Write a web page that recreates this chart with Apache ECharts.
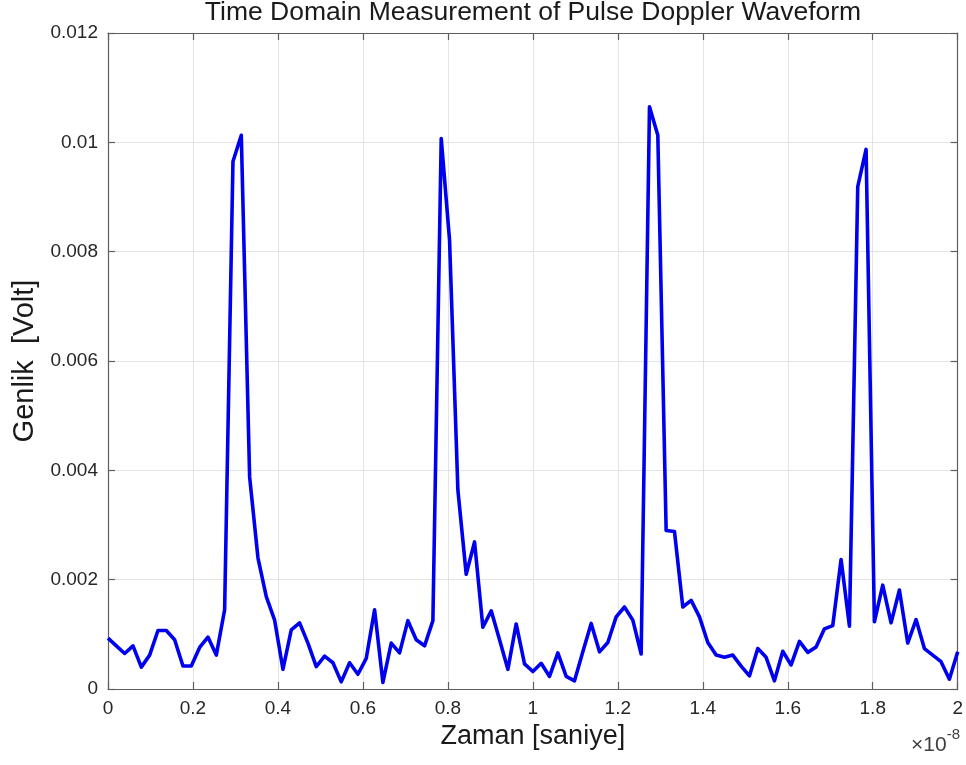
<!DOCTYPE html>
<html>
<head>
<meta charset="utf-8">
<title>Pulse Doppler Waveform</title>
<script src="https://cdn.jsdelivr.net/npm/echarts@6/dist/echarts.min.js"></script>
<style>
  html, body { margin: 0; padding: 0; background: #ffffff; }
  #chart { width: 966px; height: 765px; }
</style>
</head>
<body>
<div id="chart"></div>
<script>
// Measured pulse train amplitude [V], uniformly sampled from t = 0 to t = 2e-8 s
const amplitude = [
  0.00093, 0.00079, 0.00065, 0.00079, 0.00040, 0.00062, 0.00107, 0.00107, 0.00090, 0.00042,
  0.00042, 0.00076, 0.00095, 0.00062, 0.00145, 0.00965, 0.01013, 0.00388, 0.00240, 0.00169,
  0.00126, 0.00036, 0.00108, 0.00121, 0.00084, 0.00041, 0.00060, 0.00048, 0.00013, 0.00048,
  0.00027, 0.00056, 0.00145, 0.00012, 0.00084, 0.00066, 0.00125, 0.00090, 0.00079, 0.00125,
  0.01007, 0.00821, 0.00364, 0.00210, 0.00269, 0.00113, 0.00143, 0.00090, 0.00036, 0.00119,
  0.00046, 0.00032, 0.00047, 0.00023, 0.00066, 0.00023, 0.00015, 0.00068, 0.00120, 0.00068,
  0.00085, 0.00132, 0.00150, 0.00126, 0.00064, 0.01065, 0.01013, 0.00290, 0.00288, 0.00150,
  0.00162, 0.00132, 0.00085, 0.00062, 0.00058, 0.00062, 0.00042, 0.00024, 0.00074, 0.00058,
  0.00015, 0.00069, 0.00044, 0.00087, 0.00067, 0.00077, 0.00110, 0.00116, 0.00237, 0.00115,
  0.00919, 0.00987, 0.00123, 0.00190, 0.00121, 0.00181, 0.00084, 0.00127, 0.00074, 0.00062,
  0.00050, 0.00018, 0.00068
];

// Time span in units of 1e-8 s
const T_END = 2;
const time = amplitude.map((_, i) => i * T_END / (amplitude.length - 1));

const xTicks = [0, 0.2, 0.4, 0.6, 0.8, 1, 1.2, 1.4, 1.6, 1.8, 2];
const yTicks = [0, 0.002, 0.004, 0.006, 0.008, 0.01, 0.012];

const titleText = 'Time Domain Measurement of Pulse Doppler Waveform';
const xLabel = 'Zaman [saniye]';
const yLabel = 'Genlik  [Volt]';

const FONT = '"Liberation Sans", Arial, Helvetica, sans-serif';
const AXIS_COLOR = '#5e5e5e';
const GRID_COLOR = '#e3e3e3';
const TICK_TEXT = '#262626';

const fmt = v => String(+v.toFixed(4));

const chart = echarts.init(document.getElementById('chart'), null, { renderer: 'canvas' });

const baseAxis = (ticks) => ({
  type: 'value',
  min: ticks[0],
  max: ticks[ticks.length - 1],
  interval: ticks[1] - ticks[0],
  axisLine: { show: true, onZero: false, lineStyle: { color: AXIS_COLOR, width: 1.2 } },
  axisTick: { show: true, inside: true, length: 7, lineStyle: { color: AXIS_COLOR, width: 1.2 } }
});

chart.setOption({
  backgroundColor: '#ffffff',
  animation: false,
  grid: { left: 108, right: 8, top: 33, bottom: 76, containLabel: false },
  xAxis: [
    Object.assign(baseAxis(xTicks), {
      position: 'bottom',
      name: xLabel,
      nameLocation: 'middle',
      nameGap: 27,
      nameTextStyle: { fontFamily: FONT, fontSize: 27, color: '#1a1a1a' },
      axisLabel: { margin: 10, fontFamily: FONT, fontSize: 19, color: TICK_TEXT, formatter: fmt },
      splitLine: { show: true, lineStyle: { color: GRID_COLOR, width: 1 } }
    }),
    Object.assign(baseAxis(xTicks), {
      position: 'top',
      axisLabel: { show: false },
      splitLine: { show: false }
    })
  ],
  yAxis: [
    Object.assign(baseAxis(yTicks), {
      position: 'left',
      name: yLabel,
      nameLocation: 'middle',
      nameGap: 62,
      nameRotate: 90,
      nameTextStyle: { fontFamily: FONT, fontSize: 29, color: '#1a1a1a' },
      axisLabel: { margin: 10, fontFamily: FONT, fontSize: 19, color: TICK_TEXT, formatter: fmt },
      splitLine: { show: true, lineStyle: { color: GRID_COLOR, width: 1 } }
    }),
    Object.assign(baseAxis(yTicks), {
      position: 'right',
      axisLabel: { show: false },
      splitLine: { show: false }
    })
  ],
  graphic: [
    {
      type: 'text',
      x: 533,
      y: 13,
      style: {
        text: titleText,
        textAlign: 'center',
        textVerticalAlign: 'middle',
        fontFamily: FONT,
        fontSize: 26.5,
        fill: '#1a1a1a'
      }
    },
    {
      type: 'text',
      right: 6,
      top: 727,
      style: {
        rich: {
          b: { fontFamily: FONT, fontSize: 21, fill: '#404040', padding: [8, 0, 0, 0] },
          s: { fontFamily: FONT, fontSize: 15, fill: '#404040', verticalAlign: 'top' }
        },
        text: '{b|×10}{s|-8}'
      }
    }
  ],
  series: [
    {
      type: 'line',
      xAxisIndex: 0,
      yAxisIndex: 0,
      data: time.map((t, i) => [t, amplitude[i]]),
      showSymbol: false,
      symbol: 'none',
      lineStyle: { color: '#0000f0', width: 3.6, join: 'round' },
      clip: true
    }
  ]
});
</script>
</body>
</html>
